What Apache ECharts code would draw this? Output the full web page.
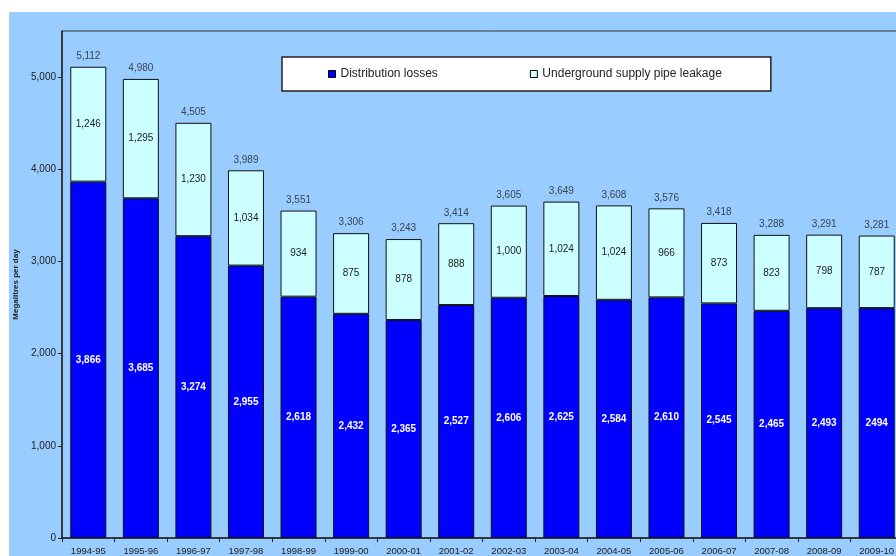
<!DOCTYPE html>
<html>
<head>
<meta charset="utf-8">
<script src="https://cdn.jsdelivr.net/npm/echarts@6/dist/echarts.min.js"></script>
<style>
  html, body { margin: 0; padding: 0; background: #ffffff; overflow: hidden; width: 896px; height: 556px; }
  /* the plot runs on past the right edge of the page */
  #chart { width: 906px; height: 556px; }
</style>
</head>
<body>
<div id="chart"></div>
<script>
// Leakage by year, megalitres per day
const years = ['1994-95', '1995-96', '1996-97', '1997-98', '1998-99', '1999-00', '2000-01', '2001-02',
               '2002-03', '2003-04', '2004-05', '2005-06', '2006-07', '2007-08', '2008-09', '2009-10'];
const distributionLosses = [3866, 3685, 3274, 2955, 2618, 2432, 2365, 2527, 2606, 2625, 2584, 2610, 2545, 2465, 2493, 2494];
const supplyPipeLeakage = [1246, 1295, 1230, 1034, 934, 875, 878, 888, 1000, 1024, 1024, 966, 873, 823, 798, 787];
const totalLeakage = [5112, 4980, 4505, 3989, 3551, 3306, 3243, 3414, 3605, 3649, 3608, 3576, 3418, 3288, 3291, 3281];
const yTicks = [0, 1000, 2000, 3000, 4000, 5000];

const FONT = 'Liberation Sans, Arial, sans-serif';
const fmt = v => v.toLocaleString('en-US');

const chart = echarts.init(document.getElementById('chart'), null, { renderer: 'canvas' });

chart.setOption({
  backgroundColor: '#ffffff',
  animation: false,
  graphic: [{
    type: 'rect',
    z: -10,
    shape: { x: 9, y: 12, width: 900, height: 560 },
    style: { fill: '#99CCFF' },
    silent: true
  }],
  grid: {
    left: 62, top: 31, right: 3, bottom: 17,
    show: true, borderColor: '#333333', borderWidth: 1, backgroundColor: 'transparent'
  },
  legend: {
    data: ['Distribution losses', 'Underground supply pipe leakage'],
    left: 282, top: 57,
    padding: [11, 49, 11, 46],
    itemGap: 92,
    itemWidth: 7, itemHeight: 7,
    icon: 'rect',
    backgroundColor: '#ffffff',
    borderColor: '#222222', borderWidth: 1.5,
    textStyle: { fontFamily: FONT, fontSize: 12, color: '#222222' },
    itemStyle: { borderColor: '#000000', borderWidth: 1 },
    selectedMode: false
  },
  xAxis: {
    type: 'category',
    data: years,
    axisLine: { lineStyle: { color: '#222222', width: 1.5 } },
    axisTick: { show: true, length: 4, inside: false, lineStyle: { color: '#222222' } },
    axisLabel: { fontFamily: FONT, fontSize: 9.5, color: '#222222', margin: 8 }
  },
  yAxis: {
    type: 'value',
    min: 0, max: 5500, interval: 1000,
    name: 'Megalitres per day',
    nameLocation: 'middle',
    nameGap: 42,
    nameTextStyle: { fontFamily: FONT, fontSize: 8, fontWeight: 'bold', color: '#222222' },
    axisLine: { show: true, lineStyle: { color: '#222222', width: 1.5 } },
    axisTick: { show: true, length: 4, lineStyle: { color: '#222222' } },
    axisLabel: {
      fontFamily: FONT, fontSize: 10, color: '#222222', margin: 6,
      showMaxLabel: false,
      formatter: v => (yTicks.includes(v) ? fmt(v) : '')
    },
    splitLine: { show: false }
  },
  series: [
    {
      name: 'Distribution losses',
      type: 'bar',
      stack: 'leak',
      barWidth: 36,
      data: distributionLosses,
      itemStyle: { color: '#0000FF', borderColor: '#111111', borderWidth: 1 },
      label: {
        show: true, position: 'inside',
        fontFamily: FONT, fontSize: 10, fontWeight: 'bold', color: '#ffffff',
        formatter: p => (p.dataIndex === 15 ? String(p.value) : fmt(p.value))
      }
    },
    {
      name: 'Underground supply pipe leakage',
      type: 'bar',
      stack: 'leak',
      barWidth: 36,
      data: supplyPipeLeakage,
      itemStyle: { color: '#CCFFFF', borderColor: '#111111', borderWidth: 1 },
      label: {
        show: true, position: 'inside',
        fontFamily: FONT, fontSize: 10, color: '#222222',
        formatter: p => fmt(p.value)
      }
    },
    {
      name: 'Total',
      type: 'scatter',
      data: totalLeakage,
      symbolSize: 1,
      silent: true,
      itemStyle: { color: 'rgba(0,0,0,0)' },
      label: {
        show: true, position: 'top', distance: 5,
        fontFamily: FONT, fontSize: 10, color: '#222222',
        formatter: p => fmt(p.value)
      },
      z: 5
    }
  ]
});
</script>
</body>
</html>
